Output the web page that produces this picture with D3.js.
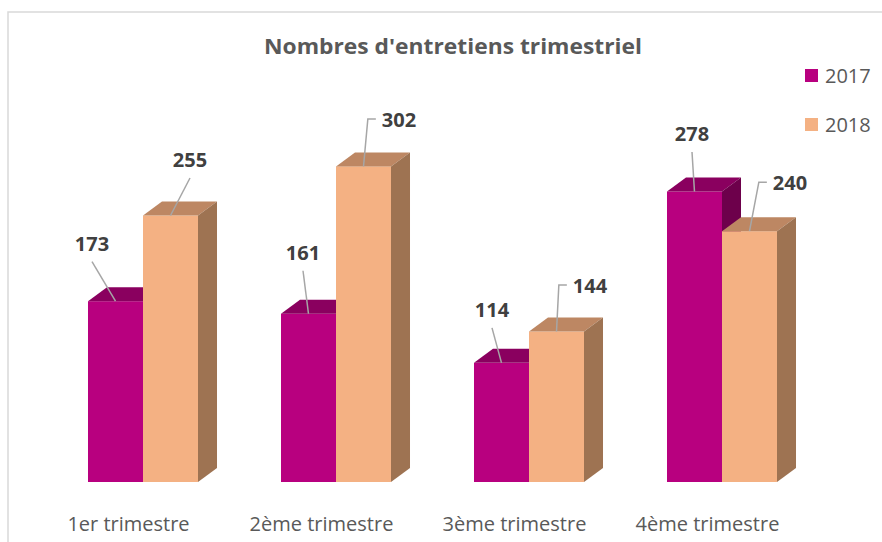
<!DOCTYPE html>
<html>
<head>
<meta charset="utf-8">
<script src="https://cdn.jsdelivr.net/npm/d3@7/dist/d3.min.js"></script>
<style>
  html, body { margin: 0; padding: 0; background: #fff; }
  svg { display: block; }
</style>
</head>
<body>
<svg id="chart" width="882" height="542"></svg>
<script>
// ---- data ----
const categories = ["1er trimestre", "2ème trimestre", "3ème trimestre", "4ème trimestre"];
const seriesNames = ["2017", "2018"];
const values2017 = [173, 161, 114, 278];
const values2018 = [255, 302, 144, 240];
const title = "Nombres d'entretiens trimestriel";

// label placement (offsets from bar top centre), kept apart from the data
const labelOffsets2017 = [[-23.5, -50.7, false], [-5.5, -54, false], [-9.5, -46, false], [-2.5, -50.5, false]];
const labelOffsets2018 = [[19.5, -48.5, false], [35.5, -39.4, true], [33.5, -38.5, true], [40.5, -41, true]];

// ---- styles ----
const colors = {
  "2017": { front: "#b8007f", top: "#8a005f", side: "#6d004b" },
  "2018": { front: "#f4b183", top: "#bd8763", side: "#9e7352" }
};
const depthX = 19, depthY = 14;

const svg = d3.select("#chart");
const font = "'Open Sans', 'DejaVu Sans', sans-serif";

// frame
svg.append("path")
  .attr("d", "M882,12 L8,12 L8,542")
  .attr("fill", "none").attr("stroke", "#d9d9d9").attr("stroke-width", 1.5);

// scales
const baseY = 482;
const y = d3.scaleLinear().domain([0, 350]).range([baseY, baseY - 350 * 1.045]);
const x0 = d3.scaleBand().domain(categories).range([46.5, 818.5]).paddingInner(0.43).paddingOuter(0.215);
const x1 = d3.scaleBand().domain(seriesNames).range([0, x0.bandwidth()]).padding(0);

const rows = categories.map((c, i) => ({
  cat: c,
  bars: [
    { s: "2017", v: values2017[i], off: labelOffsets2017[i] },
    { s: "2018", v: values2018[i], off: labelOffsets2018[i] }
  ]
}));

const plot = svg.append("g");
rows.forEach(r => {
  r.bars.forEach(b => {
    const xl = x0(r.cat) + x1(b.s);
    const xr = xl + x1.bandwidth();
    const yt = y(b.v);
    const c = colors[b.s];
    const g = plot.append("g");
    g.append("rect").attr("x", xl).attr("y", yt).attr("width", xr - xl).attr("height", baseY - yt).attr("fill", c.front);
    g.append("path").attr("d", `M${xl},${yt} L${xl + depthX},${yt - depthY} L${xr + depthX},${yt - depthY} L${xr},${yt} Z`).attr("fill", c.top);
    g.append("path").attr("d", `M${xr},${yt} L${xr + depthX},${yt - depthY} L${xr + depthX},${baseY - depthY} L${xr},${baseY} Z`).attr("fill", c.side);
  });
});

// data labels with leader lines
const labels = svg.append("g");
rows.forEach(r => {
  r.bars.forEach(b => {
    const cx = x0(r.cat) + x1(b.s) + x1.bandwidth() / 2;
    const yt = y(b.v);
    const [dx, dy, elbow] = b.off;
    const tx = cx + dx, ty = yt + dy;
    const t = labels.append("text")
      .attr("x", tx).attr("y", ty)
      .attr("text-anchor", "middle")
      .attr("font-family", font).attr("font-weight", "bold").attr("font-size", 20)
      .attr("fill", "#404040")
      .text(b.v);
    const w = t.node().getComputedTextLength();
    let d;
    if (elbow) {
      const xs = tx - w / 2 - 6, yl = ty - 8;
      d = `M${xs},${yl} L${xs - 8},${yl} L${cx},${yt}`;
    } else {
      d = `M${tx},${ty + 11} L${cx},${yt}`;
    }
    labels.insert("path", "text").attr("d", d).attr("fill", "none").attr("stroke", "#a6a6a6").attr("stroke-width", 1.5);
  });
});

// category axis
const axis = d3.axisBottom(x0).tickSize(0).tickPadding(0);
const ax = svg.append("g").attr("transform", `translate(0,${baseY})`).call(axis);
ax.select(".domain").remove();
ax.selectAll("text")
  .attr("font-family", font).attr("font-size", 20).attr("fill", "#595959")
  .attr("dy", null).attr("y", 49).attr("dx", -14.5);

// title
svg.append("text")
  .attr("x", 453).attr("y", 54)
  .attr("text-anchor", "middle")
  .attr("font-family", font).attr("font-weight", "bold").attr("font-size", 21)
  .attr("fill", "#595959")
  .attr("textLength", 378).attr("lengthAdjust", "spacingAndGlyphs")
  .text(title);

// legend
const leg = svg.append("g");
seriesNames.forEach((s, i) => {
  const yy = 69 + i * 49;
  leg.append("rect").attr("x", 805).attr("y", yy).attr("width", 13).attr("height", 13).attr("fill", colors[s].front);
  leg.append("text").attr("x", 825).attr("y", yy + 13.5)
    .attr("font-family", font).attr("font-size", 20).attr("fill", "#595959").text(s);
});
</script>
</body>
</html>
